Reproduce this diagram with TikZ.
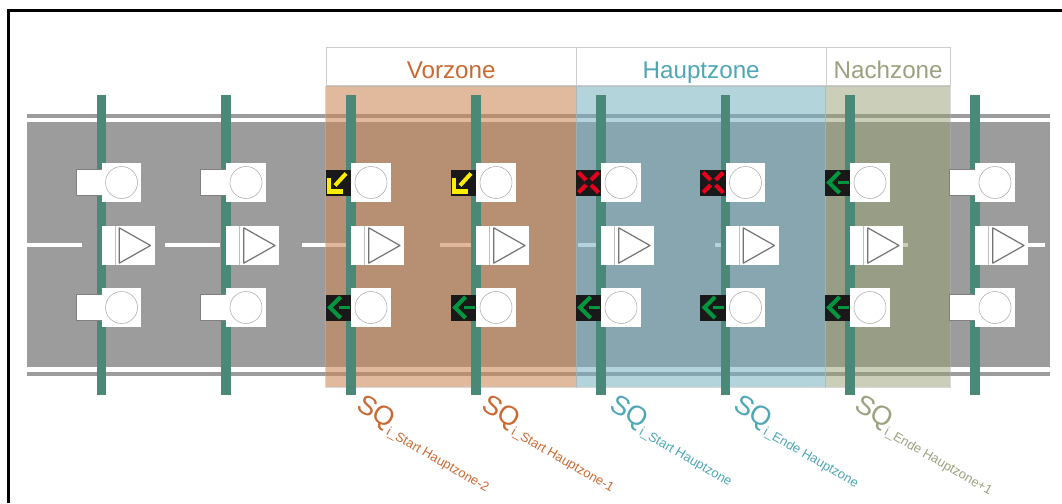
\documentclass[tikz,border=0pt]{standalone}
\usepackage{fontspec}
\setmainfont{Liberation Sans}
\definecolor{roadgray}{HTML}{9B9C9B}
\definecolor{mastgreen}{HTML}{4A8878}
\definecolor{vorcol}{HTML}{C96A35}
\definecolor{hauptcol}{HTML}{4FA6B5}
\definecolor{nachcol}{HTML}{9BA27F}
\definecolor{vorfill}{HTML}{CC8655}
\definecolor{hauptfill}{HTML}{77B0C0}
\definecolor{nachfill}{HTML}{979F73}
\definecolor{sigyellow}{HTML}{FFED00}
\definecolor{sigred}{HTML}{E6001E}
\definecolor{siggreen}{HTML}{009640}
\tikzset{%
  mast/.style={fill=mastgreen, draw=none},
  zonefill/.style={fill=#1, draw=gray!60, draw opacity=0.5, line width=0.6pt},
  zonelabel/.style={draw=gray!40, fill=white, line width=0.8pt, inner sep=0pt, minimum height=38pt, text height=24.5pt, text depth=0pt, text=#1, font=\fontsize{24.2}{26}\selectfont},
  sqlabel/.style={rotate=-30, anchor=base west, inner sep=0pt, text=#1, font=\fontsize{27}{30}\selectfont},
  pics/headbox/.style={code={
    \fill[white] (0.3,-19.5) rectangle (39.7,19.5);
    \draw[gray!60, line width=0.6pt] (20,0) circle (16);
  }},
  pics/emptybox/.style={code={
    \fill[white] (-25.3,-13) rectangle (0.3,13);
    \draw[gray, line width=0.8pt] (0.3,-13) -- (-25.3,-13) -- (-25.3,13) -- (0.3,13);
  }},
  pics/darkbox/.style={code={
    \fill[black!90] (-25.3,-13) rectangle (0.3,13);
  }},
  pics/dirbox/.style={code={
    \fill[white] (0.3,-19.5) rectangle (53.3,19.5);
    \draw[gray!50, line width=0.6pt] (13.3,-19.5) -- (13.3,19.5);
    \draw[gray!90!black, line width=1.2pt, line join=round] (17.7,-17.7) -- (49,0) -- (17.7,17.7) -- cycle;
  }},
  pics/yellowarrow/.style={code={
    \draw[sigyellow, line width=4.3pt] (-22.3,-5) -- (-22.3,9) -- (-8,9);
    \draw[sigyellow, line width=4pt] (-16,3) -- (-5,-9);
  }},
  pics/redcross/.style={code={
    \draw[sigred, line width=4pt] (-22.5,-10) -- (-15,-2.5) (-2.5,-10) -- (-10,-2.5)
      (-22.5,10) -- (-15,2.5) (-2.5,10) -- (-10,2.5);
  }},
  pics/greenarrow/.style={code={
    \draw[siggreen, line width=4.2pt] (-10.5,-10.5) -- (-21,0) -- (-10.5,10.5);
    \draw[siggreen, line width=3.6pt] (-12.3,0) -- (-1.5,0);
  }},
}

\begin{document}
\begin{tikzpicture}[x=1pt, y=-1pt]
    \useasboundingbox (0,0) rectangle (1062,503);

    %frame
    \draw[line width=2.3pt] (8.6,503) -- (8.6,10.4) -- (1062,10.4);

    %road with rails
    \fill[roadgray] (27,122) rectangle (1050,367);
    \fill[roadgray] (27,114) rectangle (1050,117.5);
    \fill[roadgray] (27,372) rectangle (1050,376);

    %centre line
    \foreach \x in {27,164.5,302,440,577.5,715,852.5,990}
      \fill[white] (\x,242.5) rectangle ++(55,4.5);

    %zones
    \draw[zonefill=vorfill, fill opacity=0.58] (325.5,86) rectangle (576,387);
    \draw[zonefill=hauptfill, fill opacity=0.55] (576,86) rectangle (825.5,387);
    \draw[zonefill=nachfill, fill opacity=0.5] (825.5,86) rectangle (950,387);
    \node (vorzone) [zonelabel=vorcol, minimum width=250.5pt, anchor=south west] at (325.5,86) {Vorzone};
    \node (hauptzone) [zonelabel=hauptcol, minimum width=249.5pt, anchor=south west] at (576,86) {Hauptzone};
    \node (nachzone) [zonelabel=nachcol, minimum width=124.5pt, anchor=south west] at (825.5,86) {Nachzone};

    %masts
    \foreach \x in {101.5,226,351,476,601,725.5,850,975}
      \fill[mast] (\x-4.8,94.5) rectangle (\x+4.8,395);

    %signals without aspect
    \foreach \x in {101.5,226,975} {
      \pic at (\x,182.5) {emptybox};
      \pic at (\x,307.5) {emptybox};
    }
    %signals with aspect
    \foreach \x in {351,476,601,725.5,850} {
      \pic at (\x,182.5) {darkbox};
      \pic at (\x,307.5) {darkbox};
      \pic at (\x,307.5) {greenarrow};
    }
    \pic at (351,182.5) {yellowarrow};
    \pic at (476,182.5) {yellowarrow};
    \pic at (601,182.5) {redcross};
    \pic at (725.5,182.5) {redcross};
    \pic at (850,182.5) {greenarrow};

    %heads and direction boxes
    \foreach \x in {101.5,226,351,476,601,725.5,850,975} {
      \pic at (\x,182.5) {headbox};
      \pic at (\x,245.5) {dirbox};
      \pic at (\x,307.5) {headbox};
    }

    %cross sections
    \newcommand{\sqtext}[1]{SQ\raisebox{-6.5pt}{\fontsize{13}{14}\selectfont i\_#1}}
    \node (sqa) [sqlabel=vorcol] at (355,409) {\sqtext{Start Hauptzone-2}};
    \node (sqb) [sqlabel=vorcol] at (480,409) {\sqtext{Start Hauptzone-1}};
    \node (sqc) [sqlabel=hauptcol] at (608,409) {\sqtext{Start Hauptzone}};
    \node (sqd) [sqlabel=hauptcol] at (732,409) {\sqtext{Ende Hauptzone}};
    \node (sqe) [sqlabel=nachcol] at (853,409) {\sqtext{Ende Hauptzone+1}};

\end{tikzpicture}
\end{document}
